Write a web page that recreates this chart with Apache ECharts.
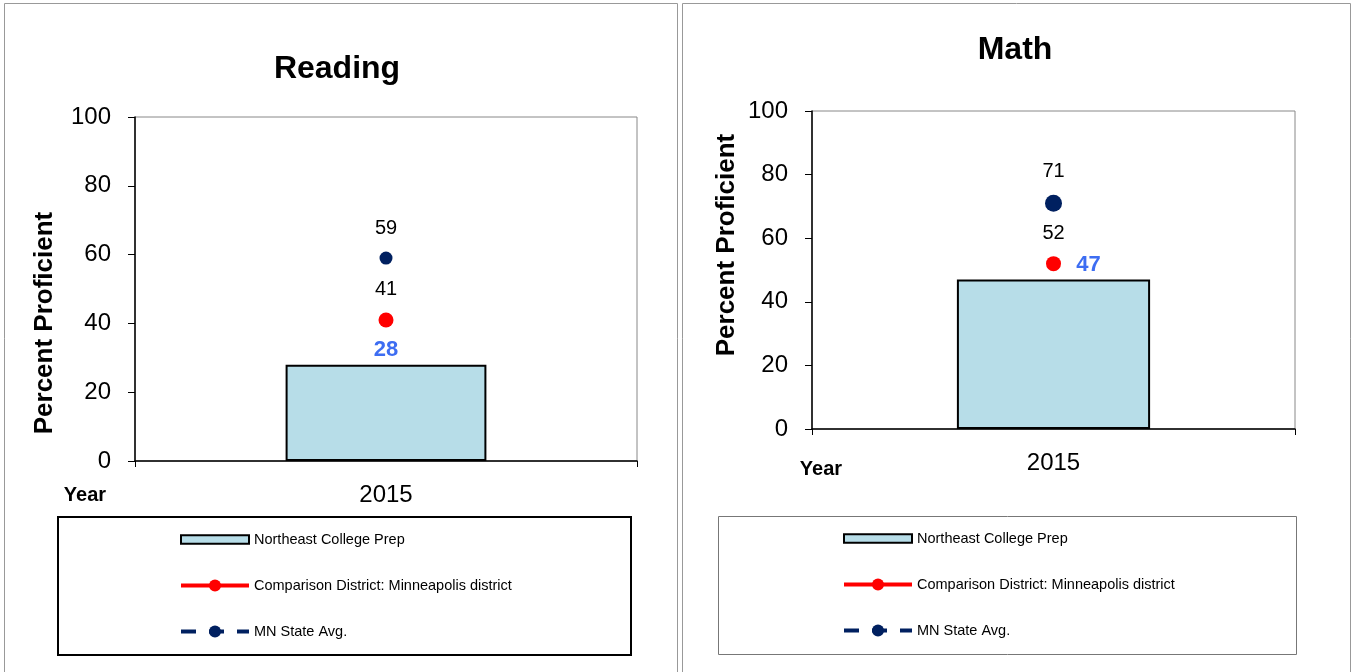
<!DOCTYPE html>
<html>
<head>
<meta charset="utf-8">
<script src="https://cdn.jsdelivr.net/npm/echarts@6/dist/echarts.min.js"></script>
<style>
  html, body { margin: 0; padding: 0; background: #fff; }
  #chart { width: 1352px; height: 672px; }
</style>
</head>
<body>
<div id="chart"></div>
<script>
// data
const years = ["2015"];
const seriesNames = [
  "Northeast College Prep",
  "Comparison District: Minneapolis district",
  "MN State Avg.",
];
const readingSchool = [28];
const readingDistrict = [41];
const readingState = [59];
const mathSchool = [47];
const mathDistrict = [52];
const mathState = [71];

const FONT = "Liberation Sans, Arial, sans-serif";
const BAR_FILL = "#b7dde8";
const RED = "#ff0000";
const NAVY = "#002060";
const LABEL_BLUE = "#3d6df2";

const chart = echarts.init(document.getElementById("chart"));

const makeAxes = (idx) => {
  return {
    x: {
      type: "category",
      gridIndex: idx,
      data: years,
      axisLine: { lineStyle: { color: "#000", width: 1.5 } },
      axisTick: { show: true, length: 6, lineStyle: { color: "#000" } },
      axisLabel: { fontSize: 24, color: "#000", fontFamily: FONT, margin: 22 },
    },
    y: {
      type: "value",
      gridIndex: idx,
      min: 0,
      max: 100,
      interval: 20,
      splitLine: { show: false },
      axisLine: { show: true, lineStyle: { color: "#000", width: 1.5 } },
      axisTick: { show: true, length: 7, lineStyle: { color: "#000" } },
      axisLabel: { fontSize: 24, color: "#000", fontFamily: FONT, margin: 24 },
    },
  };
};

const makeSeries = (idx, school, district, state, schoolLabelOffset) => {
  return [
    {
      name: seriesNames[0],
      type: "bar",
      xAxisIndex: idx,
      yAxisIndex: idx,
      data: school,
      barWidth: "40%",
      itemStyle: { color: BAR_FILL, borderColor: "#000", borderWidth: 2 },
      label: {
        show: true,
        position: "top",
        distance: 4,
        offset: schoolLabelOffset,
        color: LABEL_BLUE,
        fontWeight: "bold",
        fontSize: 22,
        fontFamily: FONT,
      },
      z: 1,
    },
    {
      name: seriesNames[1],
      type: "line",
      xAxisIndex: idx,
      yAxisIndex: idx,
      data: district,
      symbol: "circle",
      symbolSize: 15,
      itemStyle: { color: RED },
      lineStyle: { color: RED, width: 4 },
      label: {
        show: true,
        position: "top",
        distance: 13,
        color: "#000",
        fontSize: 20,
        fontFamily: FONT,
      },
      z: 3,
    },
    {
      name: seriesNames[2],
      type: "line",
      xAxisIndex: idx,
      yAxisIndex: idx,
      data: state,
      symbol: "circle",
      symbolSize: idx === 0 ? 13 : 17,
      itemStyle: { color: NAVY },
      lineStyle: { color: NAVY, width: 4, type: [15, 13] },
      label: {
        show: true,
        position: "top",
        distance: 13,
        color: "#000",
        fontSize: 20,
        fontFamily: FONT,
      },
      z: 3,
    },
  ];
};

const left = makeAxes(0);
const right = makeAxes(1);

const legendCommon = {
  orient: "vertical",
  padding: 0,
  itemWidth: 68,
  itemHeight: 15,
  itemGap: 31,
  selectedMode: false,
  lineStyle: { width: 4 },
  textStyle: { fontSize: 14.5, color: "#000", fontFamily: FONT },
  data: [
    { name: seriesNames[0], icon: "path://M0,0H70V9H0Z" },
    { name: seriesNames[1] },
    { name: seriesNames[2] },
  ],
};

const option = {
  animation: false,
  title: [
    {
      text: "Reading",
      left: 332,
      top: 48,
      textAlign: "center",
      textStyle: { fontSize: 32, fontWeight: "bold", color: "#000", fontFamily: FONT },
    },
    {
      text: "Math",
      left: 1010,
      top: 29,
      textAlign: "center",
      textStyle: { fontSize: 32, fontWeight: "bold", color: "#000", fontFamily: FONT },
    },
  ],
  grid: [
    { left: 135, top: 117, width: 502, height: 344, show: true, borderColor: "#888", borderWidth: 1, containLabel: false },
    { left: 812, top: 111, width: 483, height: 318, show: true, borderColor: "#888", borderWidth: 1, containLabel: false },
  ],
  xAxis: [left.x, right.x],
  yAxis: [left.y, right.y],
  legend: [
    Object.assign({}, legendCommon, { left: 179, top: 532 }),
    Object.assign({}, legendCommon, { left: 842, top: 531 }),
  ],
  graphic: [
    // panel frames
    { type: "rect", shape: { x: 4.5, y: 3.5, width: 673, height: 690 }, style: { fill: "none", stroke: "#999", lineWidth: 1 }, silent: true },
    { type: "rect", shape: { x: 682.5, y: 3.5, width: 668, height: 690 }, style: { fill: "none", stroke: "#999", lineWidth: 1 }, silent: true },
    // legend boxes
    { type: "rect", shape: { x: 58, y: 517, width: 573, height: 138 }, style: { fill: "none", stroke: "#000", lineWidth: 2 }, silent: true, z: -1 },
    { type: "rect", shape: { x: 718.5, y: 516.5, width: 578, height: 138 }, style: { fill: "none", stroke: "#777", lineWidth: 1 }, silent: true, z: -1 },
    // axis titles
    {
      type: "text", x: 45, y: 323, rotation: Math.PI / 2,
      style: { text: "Percent Proficient", font: "bold 26px " + FONT, fill: "#000", textAlign: "center", textVerticalAlign: "middle" },
    },
    {
      type: "text", x: 727, y: 245, rotation: Math.PI / 2,
      style: { text: "Percent Proficient", font: "bold 26px " + FONT, fill: "#000", textAlign: "center", textVerticalAlign: "middle" },
    },
    {
      type: "text", x: 85, y: 495,
      style: { text: "Year", font: "bold 20px " + FONT, fill: "#000", textAlign: "center", textVerticalAlign: "middle" },
    },
    {
      type: "text", x: 821, y: 469,
      style: { text: "Year", font: "bold 20px " + FONT, fill: "#000", textAlign: "center", textVerticalAlign: "middle" },
    },
  ],
  series: [
    ...makeSeries(0, readingSchool, readingDistrict, readingState, [0, 0]),
    ...makeSeries(1, mathSchool, mathDistrict, mathState, [35, 0]),
  ],
};

chart.setOption(option);
</script>
</body>
</html>
